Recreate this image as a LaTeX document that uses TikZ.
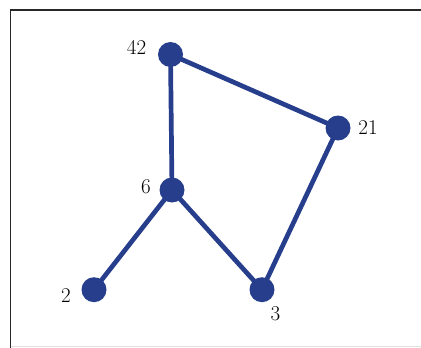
\documentclass[tikz,border=0pt]{standalone}
\definecolor{nodeblue}{RGB}{38,62,140}
\definecolor{framegray}{RGB}{40,40,40}
\begin{document}
\begin{tikzpicture}[x=1pt,y=-1pt,
  vtx/.style={circle,fill=nodeblue,minimum size=25pt,inner sep=0pt},
  edge/.style={draw=nodeblue,line width=4.7pt},
  lbl/.style={font=\fontsize{21}{25}\selectfont,text=black,inner sep=0pt}]
\useasboundingbox (0,0) rectangle (421,348);
\draw[framegray,line width=1.3pt] (10.5,348) -- (10.5,10) -- (421,10);
\draw[black!12,line width=1pt] (10.5,346.5) -- (421,346.5);
\coordinate (c42) at (170.5,54.5);
\coordinate (c21) at (338,128);
\coordinate (c6) at (172,190);
\coordinate (c2) at (94,289.7);
\coordinate (c3) at (262,289.7);
\draw[edge] (c42) -- (c21) -- (c3) -- (c6) -- (c2);
\draw[edge] (c42) -- (c6);
\node[vtx] (n42) at (c42) {};
\node[vtx] (n21) at (c21) {};
\node[vtx] (n6) at (c6) {};
\node[vtx] (n2) at (c2) {};
\node[vtx] (n3) at (c3) {};
\node[lbl] (l42) at (136.5,47) {42};
\node[lbl] (l21) at (368,128) {21};
\node[lbl] (l6) at (146,186.5) {6};
\node[lbl] (l2) at (66,296) {2};
\node[lbl] (l3) at (275.5,313.5) {3};
\end{tikzpicture}
\end{document}
